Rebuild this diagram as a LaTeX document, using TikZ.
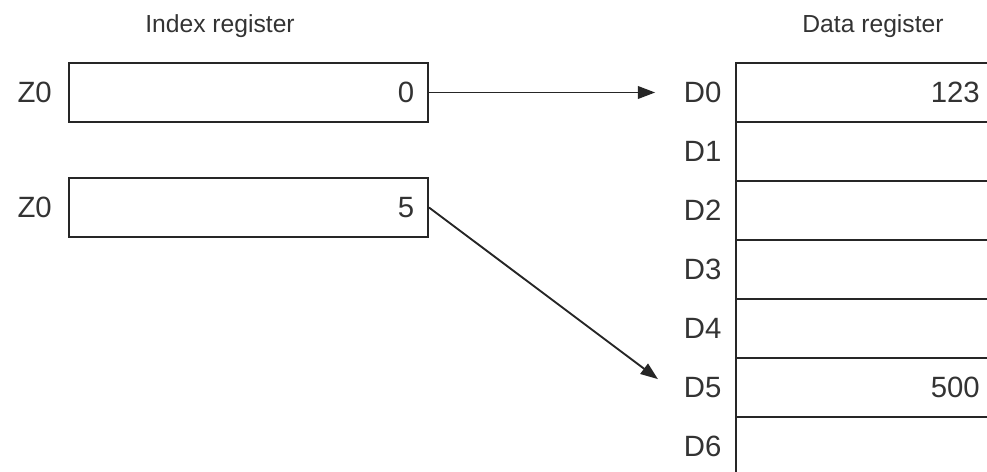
\documentclass[tikz,border=0pt]{standalone}
\usepackage{fontspec}
\setmainfont{Liberation Sans}
\usetikzlibrary{positioning,arrows.meta,calc}
\definecolor{ink}{HTML}{262626}
\definecolor{txt}{HTML}{333333}

\begin{document}
\begin{tikzpicture}[
    x=0.75pt, y=-0.75pt,
    node distance=12pt,
    regbox/.style={draw=ink, line width=1.5pt, minimum width=269.25pt, minimum height=44.25pt, inner sep=0pt},
    datarow/.style={draw=ink, line width=1.5pt, minimum width=225pt, minimum height=44.25pt, inner sep=0pt},
    lab/.style={font=\fontsize{22}{24}\selectfont, color=txt, inner sep=0pt, text width=39pt, align=right},
    val/.style={font=\fontsize{22}{24}\selectfont, color=txt, inner sep=0pt, anchor=east},
    title/.style={font=\fontsize{18.5}{20}\selectfont, color=txt, inner sep=0pt},
    arr/.style={-{Triangle[length=13pt, width=9.5pt]}, line width=1.4pt, draw=ink}
]
    \clip (0,0) rectangle (987,471);

    % Titles
    \node[title] (ititle) at (220,26) {Index register};
    \node[title] (dtitle) at (873,26) {Data register};

    % Index registers
    \node[regbox] (z0) at (248.5,92.5) {};
    \node[regbox] (z1) at (248.5,207.5) {};
    \node[lab, left=12pt of z0] (z0lab) {Z0};
    \node[lab, left=12pt of z1] (z1lab) {Z0};
    \node[val] (z0val) at ($(z0.east)+(-11pt,0)$) {0};
    \node[val] (z1val) at ($(z1.east)+(-11pt,0)$) {5};

    % Data registers
    \foreach \i in {0,...,6} {
        \node[datarow] (d\i) at (886,92.5+59*\i) {};
        \node[lab, left=10pt of d\i] (d\i lab) {D\i};
    }
    \node[val] (d0val) at (980,92.5) {123};
    \node[val] (d5val) at (980,387.5) {500};

    % Connections
    \draw[arr, shorten >=10.5pt] (z0.east) -- (d0lab.west);
    \draw[arr, shorten >=10.5pt] (z1.east) -- (d5lab.west);
\end{tikzpicture}
\end{document}
